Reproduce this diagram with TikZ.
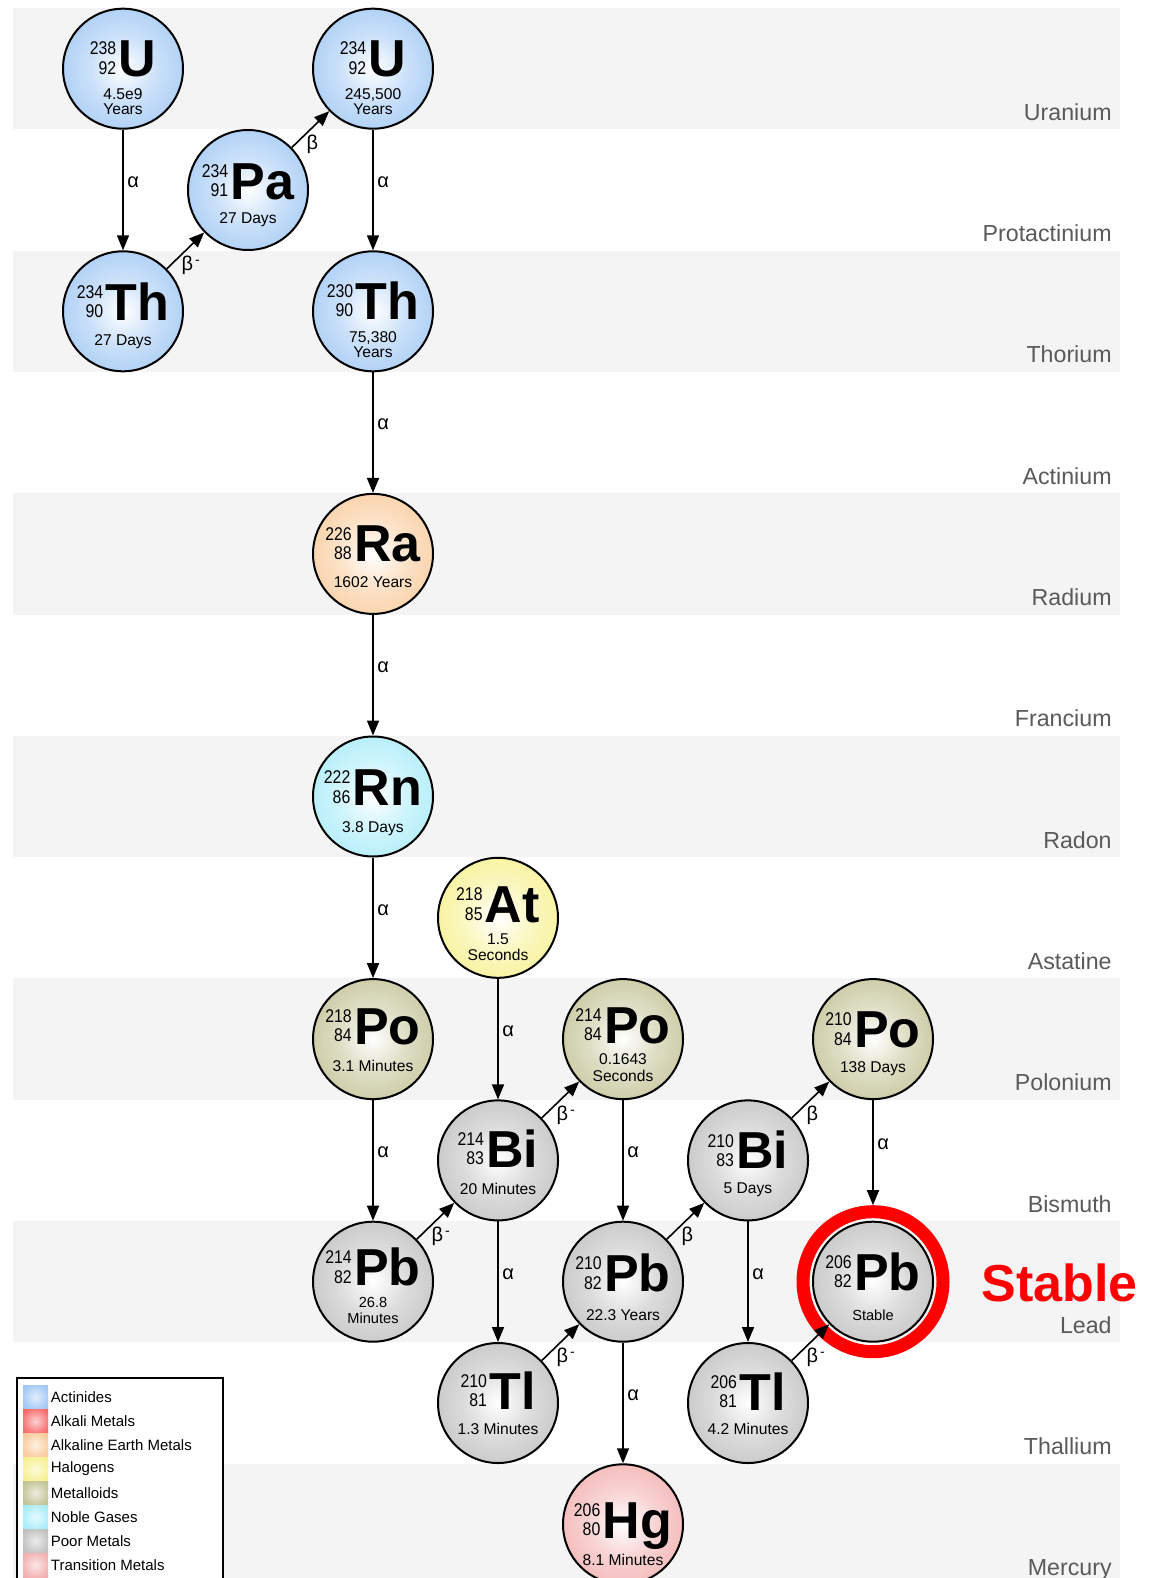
\documentclass[tikz,border=0pt]{standalone}
\usepackage{fontspec}
\setmainfont{Liberation Sans}
\newfontfamily\massfam[FakeStretch=0.86]{Liberation Sans}
\usetikzlibrary{arrows.meta}

\definecolor{actcol}{RGB}{140,188,242}
\definecolor{alkcol}{RGB}{245,75,75}
\definecolor{aecol}{RGB}{248,192,135}
\definecolor{halcol}{RGB}{245,238,120}
\definecolor{metcol}{RGB}{182,182,128}
\definecolor{noblecol}{RGB}{150,232,248}
\definecolor{poorcol}{RGB}{178,178,178}
\definecolor{transcol}{RGB}{240,158,158}
\definecolor{bandgray}{RGB}{244,244,244}
\definecolor{labgray}{RGB}{90,90,90}

\newcommand\mkshade[2]{%
  \pgfdeclareradialshading{#1}{\pgfpoint{0bp}{0bp}}{color(0bp)=(white); color(14bp)=(#2!45!white); color(34bp)=(#2!85!white); color(50bp)=(#2); color(75bp)=(#2)}%
  \pgfdeclareradialshading{#1-leg}{\pgfpoint{0bp}{0bp}}{color(0bp)=(#2!25!white); color(25bp)=(#2!75!white); color(45bp)=(#2); color(75bp)=(#2)}}
\mkshade{actsh}{actcol}
\mkshade{alksh}{alkcol}
\mkshade{aesh}{aecol}
\mkshade{halsh}{halcol}
\mkshade{metsh}{metcol}
\mkshade{noblesh}{noblecol}
\mkshade{poorsh}{poorcol}
\mkshade{transsh}{transcol}

\newcommand\massfont{\massfam\fontsize{9.2}{9.7}\selectfont}
\newcommand\symfont{\bfseries\fontsize{26}{26}\selectfont}
\newcommand\hlfont{\fontsize{7.8}{8}\selectfont}
\newcommand\smallhl{\fontsize{7.3}{7.5}\selectfont}
\newcommand\symgroup[3]{\raisebox{1.25pt}{\massfont\begin{tabular}[b]{@{}r@{}}#1\\#2\end{tabular}}\kern1.2pt{\symfont #3}}
\newcommand\bminus{β\kern1pt\raisebox{3pt}{\fontsize{7}{7}\selectfont -}}

\tikzset{
  iso/.style={circle, draw=black, line width=1pt, minimum size=60pt, inner sep=0pt},
  symtxt/.style={anchor=base, inner sep=0pt},
  hlt/.style={anchor=base, inner sep=0pt, font=\hlfont},
  decay/.style={draw=black, line width=0.8pt, -{Triangle[length=7.5pt,width=6pt]}},
  alab/.style={anchor=west, inner sep=0pt, xshift=1.8pt, yshift=4pt, font=\fontsize{10}{10}\selectfont},
  blab/.style={pos=0, anchor=west, inner sep=0pt, xshift=7pt, yshift=1.5pt, font=\fontsize{10}{10}\selectfont},
  rowlab/.style={anchor=base east, inner sep=0pt, text=labgray, font=\fontsize{11.6}{12}\selectfont},
  legtxt/.style={anchor=west, inner sep=0pt, font=\fontsize{7.5}{8}\selectfont},
}

\newcommand\isonode[8]{%
  \node[iso, shade, shading=#4] (#1) at (#2,#3) {};
  \node[symtxt] (#1-s) at ([yshift=-#8*0.5pt]#1.center) {\symgroup{#5}{#6}{#7}};}
\newcommand\hlline[5][]{\node[hlt,#1] (#2) at ([yshift=-#4*0.5pt]#3.center) {#5};}

\begin{document}
\begin{tikzpicture}[x=0.5pt,y=-0.5pt]
\useasboundingbox (0,0) rectangle (1152,1578);
\fill[white] (0,0) rectangle (1152,1578);

% bands
\foreach \k in {0,2,...,12}
  \fill[bandgray] (13,{8+121.3*\k}) rectangle (1120,{8+121.3*(\k+1)});

% row labels
\foreach \nm [count=\k from 0] in {Uranium,Protactinium,Thorium,Actinium,Radium,Francium,Radon,Astatine,Polonium,Bismuth,Lead,Thallium,Mercury}
  \node[rowlab] (row\k) at (1112,{8+121.3*(\k+1)-9}) {\nm};

% isotopes
\isonode{u238}{123}{68.7}{actsh}{238}{92}{U}{8}
\hlline{u238-a}{u238}{31}{4.5e9}
\hlline{u238-b}{u238}{46}{Years}
\isonode{u234}{373}{68.7}{actsh}{234}{92}{U}{8}
\hlline{u234-a}{u234}{31}{245,500}
\hlline{u234-b}{u234}{46}{Years}
\isonode{pa234}{248}{190}{actsh}{234}{91}{Pa}{9}
\hlline{pa234-a}{pa234}{34}{27 Days}
\isonode{th234}{123}{311.3}{actsh}{234}{90}{Th}{9}
\hlline{th234-a}{th234}{34}{27 Days}
\isonode{th230}{373}{311.3}{actsh}{230}{90}{Th}{8}
\hlline{th230-a}{th230}{31.5}{75,380}
\hlline{th230-b}{th230}{46}{Years}
\isonode{ra226}{373}{553.9}{aesh}{226}{88}{Ra}{8}
\hlline{ra226-a}{ra226}{34}{1602 Years}
\isonode{rn222}{373}{796.5}{noblesh}{222}{86}{Rn}{9}
\hlline{rn222-a}{rn222}{35.5}{3.8 Days}
\isonode{at218}{498}{917.8}{halsh}{218}{85}{At}{5}
\hlline{at218-a}{at218}{27}{1.5}
\hlline{at218-b}{at218}{42.5}{Seconds}
\isonode{po218}{373}{1039.1}{metsh}{218}{84}{Po}{5}
\hlline{po218-a}{po218}{32.5}{3.1 Minutes}
\isonode{po214}{623}{1039.1}{metsh}{214}{84}{Po}{4}
\hlline{po214-a}{po214}{25.5}{0.1643}
\hlline{po214-b}{po214}{42.5}{Seconds}
\isonode{po210}{873}{1039.1}{metsh}{210}{84}{Po}{8.5}
\hlline{po210-a}{po210}{33.5}{138 Days}
\isonode{bi214}{498}{1160.4}{poorsh}{214}{83}{Bi}{7}
\hlline{bi214-a}{bi214}{34.5}{20 Minutes}
\isonode{bi210}{748}{1160.4}{poorsh}{210}{83}{Bi}{8.5}
\hlline{bi210-a}{bi210}{33.5}{5 Days}
\isonode{pb214}{373}{1281.7}{poorsh}{214}{82}{Pb}{4}
\hlline[font=\smallhl]{pb214-a}{pb214}{25.5}{26.8}
\hlline[font=\smallhl]{pb214-b}{pb214}{41.5}{Minutes}
\isonode{pb210}{623}{1281.7}{poorsh}{210}{82}{Pb}{10}
\hlline{pb210-a}{pb210}{38.5}{22.3 Years}
\isonode{pb206}{873}{1281.7}{poorsh}{206}{82}{Pb}{8.5}
\hlline[font=\smallhl]{pb206-a}{pb206}{39}{Stable}
\isonode{tl210}{498}{1403}{poorsh}{210}{81}{Tl}{6}
\hlline{tl210-a}{tl210}{31}{1.3 Minutes}
\isonode{tl206}{748}{1403}{poorsh}{206}{81}{Tl}{7}
\hlline{tl206-a}{tl206}{31}{4.2 Minutes}
\isonode{hg206}{623}{1524.3}{transsh}{206}{80}{Hg}{14}
\hlline{hg206-a}{hg206}{41}{8.1 Minutes}

% alpha decays
\draw[decay] (u238) -- node[alab] (l1) {α} (th234);
\draw[decay] (u234) -- node[alab] (l2) {α} (th230);
\draw[decay] (th230) -- node[alab] (l3) {α} (ra226);
\draw[decay] (ra226) -- node[alab] (l4) {α} (rn222);
\draw[decay] (rn222) -- node[alab] (l5) {α} (po218);
\draw[decay] (at218) -- node[alab] (l6) {α} (bi214);
\draw[decay] (po218) -- node[alab] (l7) {α} (pb214);
\draw[decay] (po214) -- node[alab] (l8) {α} (pb210);
\draw[decay] (bi214) -- node[alab] (l9) {α} (tl210);
\draw[decay] (pb210) -- node[alab] (l10) {α} (hg206);
\draw[decay] (bi210) -- node[alab] (l11) {α} (tl206);

% stable ring
\node[circle, draw=red, line width=6.5pt, minimum size=70pt, inner sep=0pt] (ring) at (pb206) {};
\draw[decay] (po210) -- node[alab] (l12) {α} (ring);
\node[anchor=base west, inner sep=0pt, text=red, font=\bfseries\fontsize{26}{26}\selectfont] (stable) at (981,1301.7) {Stable};

% beta decays
\draw[decay] (th234) -- node[blab] (b1) {\bminus} (pa234);
\draw[decay] (pa234) -- node[blab] (b2) {β} (u234);
\draw[decay] (pb214) -- node[blab] (b3) {\bminus} (bi214);
\draw[decay] (bi214) -- node[blab] (b4) {\bminus} (po214);
\draw[decay] (tl210) -- node[blab] (b5) {\bminus} (pb210);
\draw[decay] (pb210) -- node[blab] (b6) {β} (bi210);
\draw[decay] (bi210) -- node[blab] (b7) {β} (po210);
\draw[decay] (tl206) -- node[blab] (b8) {\bminus} (pb206);

% legend
\draw[fill=white, line width=0.7pt] (17,1378) rectangle (223,1600);
\foreach \sh/\nm [count=\i from 0] in {actsh/Actinides,alksh/Alkali Metals,aesh/Alkaline Earth Metals,halsh/Halogens,metsh/Metalloids,noblesh/Noble Gases,poorsh/Poor Metals,transsh/Transition Metals}{
  \shade[shading=\sh-leg] (23,{1385+24*\i}) rectangle (48,{1409+24*\i});
  \node[legtxt] (leg\i) at (50.5,{1397+24*\i}) {\nm};
}
\end{tikzpicture}
\end{document}
